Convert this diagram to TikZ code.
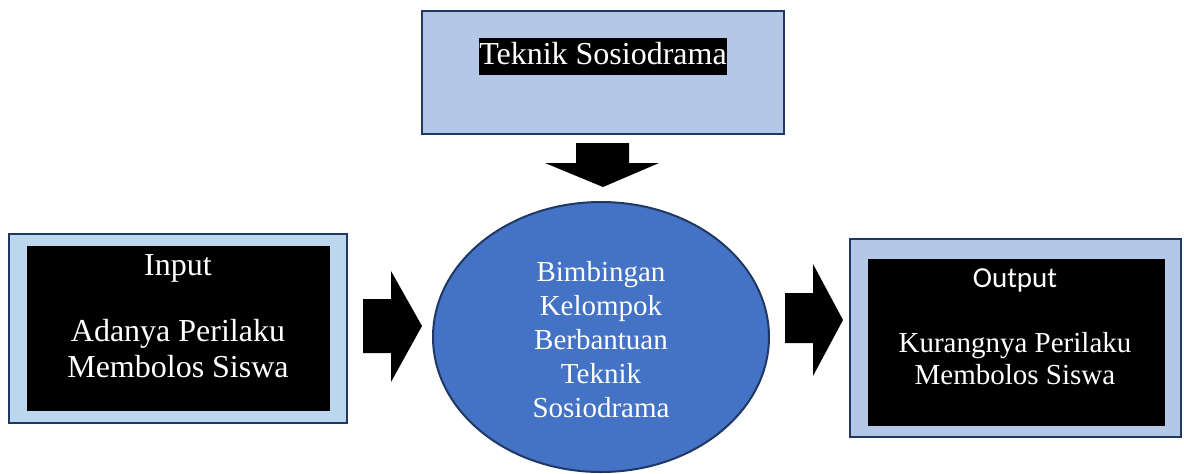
\documentclass[tikz,border=0pt]{standalone}
\usepackage{fontspec}
\setmainfont{Liberation Serif}
\newfontfamily\calibrifont{Carlito}
\usetikzlibrary{shapes,positioning,calc}

\definecolor{boxblue}{HTML}{B4C7E7}
\definecolor{boxcyan}{HTML}{BDD7EE}
\definecolor{navy}{HTML}{1F3864}
\definecolor{ellblue}{HTML}{4472C4}

\tikzset{
    outerbox/.style={draw=navy, line width=1.3pt, minimum width=#1, inner sep=0pt},
    innerbox/.style={fill=black, inner sep=0pt},
    whitetext/.style={text=white, align=center, inner sep=0pt}
}

\begin{document}
\begin{tikzpicture}[x=0.5pt, y=-0.5pt]
    \useasboundingbox (0,0) rectangle (1184,473);
    % Top box
    \node[outerbox=181pt, fill=boxblue, minimum height=61.5pt] (topbox) at (603,72.5) {};
    \node[fill=black, text=white, inner xsep=0pt, inner ysep=1pt, text height=12pt, text depth=4.5pt,
          font=\fontsize{16}{18}\selectfont] (toptext) at (603,56.5) {Teknik Sosiodrama};
    % Down arrow
    \fill[black] (576,143) -- (629,143) -- (629,163) -- (659,163) -- (603,187)
        -- (545,163) -- (576,163) -- cycle;
    % Input box
    \node[outerbox=169pt, fill=boxcyan, minimum height=94.5pt] (inbox) at (178,328.5) {};
    \node[innerbox, minimum width=151.5pt, minimum height=82.5pt] (ininner) at (178.5,328.5) {};
    \node[whitetext, font=\fontsize{16}{18}\selectfont] (inlabel) at (178,268) {Input};
    \node[whitetext, font=\fontsize{16}{18}\selectfont] (intext) at (178,349) {Adanya Perilaku\\Membolos Siswa};
    % Arrows
    \fill[black] (363,299) -- (391,299) -- (391,271) -- (422,326) -- (391,382) -- (391,353) -- (363,353) -- cycle;
    \fill[black] (785,293) -- (813,293) -- (813,264) -- (843,320) -- (813,376) -- (813,343) -- (785,343) -- cycle;
    % Ellipse
    \node[ellipse, draw=navy, line width=1pt, fill=ellblue, minimum width=168pt, minimum height=135pt,
          inner sep=0pt] (process) at (601,337) {};
    \node[whitetext, font=\fontsize{14.5}{17}\selectfont] (proctext) at (601,340)
        {Bimbingan\\Kelompok\\Berbantuan\\Teknik\\Sosiodrama};
    % Output box
    \node[outerbox=165.5pt, fill=boxblue, minimum height=99pt] (outbox) at (1015.5,338) {};
    \node[innerbox, minimum width=148.5pt, minimum height=83.5pt] (outinner) at (1016.5,342.5) {};
    \node[whitetext, font=\calibrifont\fontsize{14.5}{17}\selectfont] (outlabel) at (1015,280) {Output};
    \node[whitetext, font=\fontsize{14.5}{16}\selectfont] (outtext) at (1015,359) {Kurangnya Perilaku\\Membolos Siswa};
\end{tikzpicture}
\end{document}
